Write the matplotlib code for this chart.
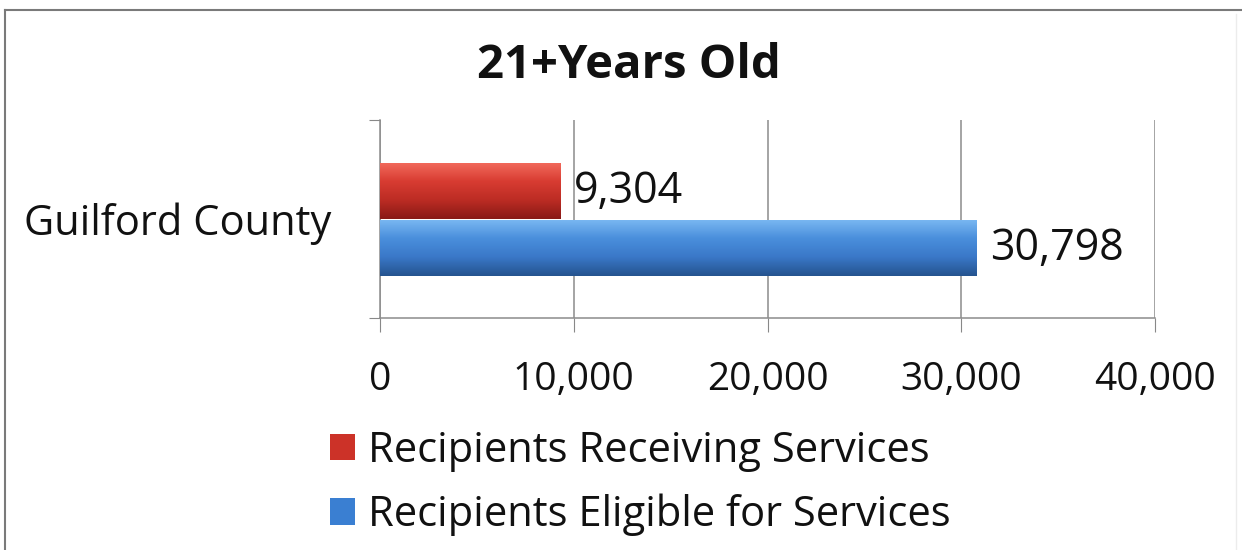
import numpy as np
import matplotlib.pyplot as plt
from matplotlib.colors import LinearSegmentedColormap
from matplotlib.patches import Rectangle
from matplotlib.lines import Line2D

plt.rcParams['font.family'] = ['Open Sans', 'DejaVu Sans']

# data
category = 'Guilford County'
series_names = ['Recipients Receiving Services', 'Recipients Eligible for Services']
series_values = [9304, 30798]
x_ticks = [0, 10000, 20000, 30000, 40000]

bar_pos = [0.141, -0.144]
bar_h = 0.283
face = ['#cc3228', '#3a7fd2']
shades = [['#f26a5c', '#d83c32', '#bc2c24', '#8a1a16'],
          ['#7ab8f2', '#4a8fdc', '#3a78c8', '#25548f']]

fig = plt.figure(figsize=(12.42, 5.5), dpi=100)
ax = fig.add_axes([0.306, 0.4218, 0.624, 0.36])

for y, v, c, sh in zip(bar_pos, series_values, face, shades):
    ax.barh(y, v, height=bar_h, color=c, edgecolor='none', zorder=2)
    # vertical shading across each bar
    cmap = LinearSegmentedColormap.from_list('s', sh[::-1])
    grad = np.linspace(0, 1, 64).reshape(-1, 1)
    im = ax.imshow(grad, extent=[0, v, y - bar_h / 2, y + bar_h / 2],
                   cmap=cmap, aspect='auto', origin='lower', zorder=3)
    im.set_clip_path(Rectangle((0, y - bar_h / 2), v, bar_h,
                               transform=ax.transData))
    ax.text(v + 700, y - 0.005, f'{v:,}', va='center', ha='left',
            fontsize=31, color='#111111', zorder=4)

ax.set_xlim(0, 40000)
ax.set_ylim(-0.5, 0.5)
ax.set_xticks(x_ticks, labels=[f'{t:,}' for t in x_ticks])
ax.tick_params(axis='x', length=10, color='#888888', labelsize=28,
               pad=21, labelcolor='#111111')
ax.grid(axis='x', color='#8c8c8c', linewidth=1.1, zorder=1)

ax.set_yticks([-0.5, 0.5], labels=['', ''])
ax.tick_params(axis='y', which='major', length=8, color='#888888')
ax.set_yticks([0], labels=[category], minor=True)
ax.tick_params(axis='y', which='minor', length=0, labelsize=30,
               pad=35, labelcolor='#111111')

for side in ['top', 'right']:
    ax.spines[side].set_visible(False)
for side in ['left', 'bottom']:
    ax.spines[side].set_color('#8c8c8c')
    ax.spines[side].set_linewidth(1.1)

fig.text(0.5065, 0.88, '21+Years Old', ha='center', va='center',
         fontsize=34, fontweight='bold', color='#111111')

handles = [Rectangle((0, 0), 1, 1, facecolor=c, edgecolor='none') for c in face]
fig.legend(handles, series_names, loc='center left',
           bbox_to_anchor=(0.249, 0.122), frameon=False, fontsize=30,
           handlelength=0.6, handleheight=0.6, handletextpad=0.3,
           labelspacing=0.52, borderpad=0, labelcolor='#111111')

# chart frame: top and left edges
fig.add_artist(Line2D([0.004, 1.0], [0.982, 0.982], transform=fig.transFigure,
                      color='#7a7a7a', linewidth=1.5))
fig.add_artist(Line2D([0.004, 0.004], [0.0, 0.982], transform=fig.transFigure,
                      color='#7a7a7a', linewidth=1.5))
fig.add_artist(Line2D([0.995, 0.995], [0.0, 0.975], transform=fig.transFigure,
                      color='#ececec', linewidth=1.0))

fig.savefig('out.png', dpi=100)
